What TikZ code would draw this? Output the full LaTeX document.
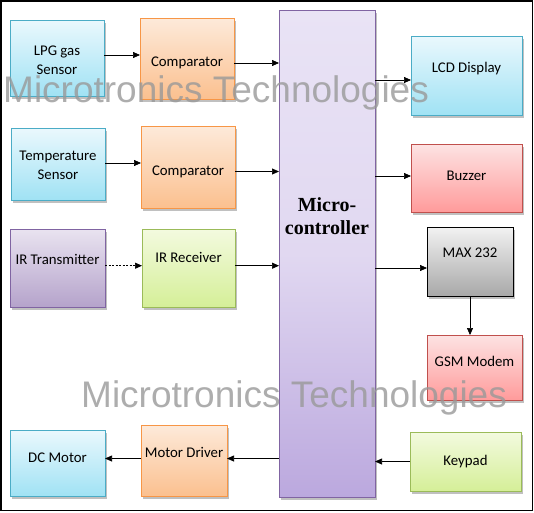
\documentclass[tikz,border=0pt]{standalone}
\usepackage{fontspec}
\setmainfont{Carlito}
\newfontfamily\mcufont{Liberation Serif}
\newfontfamily\wmfont{Liberation Sans}
\usepackage{xcolor}
\usepackage{tikz}
\usetikzlibrary{positioning,arrows.meta,shadows}

\definecolor{blueTop}{HTML}{EAF8FD}
\definecolor{blueBot}{HTML}{A0E2F4}
\definecolor{blueLine}{HTML}{4BACC6}
\definecolor{orangeTop}{HTML}{FDEADA}
\definecolor{orangeBot}{HTML}{FBC08F}
\definecolor{orangeLine}{HTML}{F79646}
\definecolor{violetTop}{HTML}{E9E3F0}
\definecolor{violetBot}{HTML}{B5A3CB}
\definecolor{violetLine}{HTML}{8064A2}
\definecolor{greenTop}{HTML}{F3FADF}
\definecolor{greenBot}{HTML}{D5EF98}
\definecolor{greenLine}{HTML}{9BBB59}
\definecolor{redTop}{HTML}{FDE3E3}
\definecolor{redBot}{HTML}{FF9B9B}
\definecolor{redLine}{HTML}{C0504D}
\definecolor{greyTop}{HTML}{F2F2F2}
\definecolor{greyBot}{HTML}{A8A8A8}
\definecolor{mcuTop}{HTML}{E9E3F5}
\definecolor{mcuMid}{HTML}{E1D8F1}
\definecolor{mcuBot}{HTML}{BBA8DE}

\begin{document}
\begin{tikzpicture}[
	x=1pt, y=-1pt,
	every node/.style={font=\fontsize{14.8}{19}\selectfont},
	every label/.style={align=center},
	block/.style={
		rectangle, inner sep=0pt, outer sep=0pt, line width=0.8pt,
		drop shadow={shadow xshift=2pt, shadow yshift=-2.5pt, fill=black!45, opacity=0.55}
	},
	blue_block/.style={block, draw=blueLine, top color=blueTop, bottom color=blueBot},
	orange_block/.style={block, draw=orangeLine, top color=orangeTop, bottom color=orangeBot},
	violet_block/.style={block, draw=violetLine, top color=violetTop, bottom color=violetBot},
	green_block/.style={block, draw=greenLine, top color=greenTop, bottom color=greenBot},
	red_block/.style={block, draw=redLine, top color=redTop, bottom color=redBot},
	grey_block/.style={block, draw=black, top color=greyTop, bottom color=greyBot},
	arrow_line/.style={-{Triangle[length=7pt,width=6pt]}, black, line width=0.7pt},
	watermark/.style={font=\wmfont\fontsize{37}{40}\selectfont, text=black!40, text opacity=0.8, anchor=base west, inner sep=0pt}
	]
	\useasboundingbox (0,0) rectangle (534,512);
	\draw[line width=1.5pt] (0.75,0.75) rectangle (532.5,510.5);
	
	% --- 1. COT TRAI (cam bien) ---
	\node[blue_block, minimum width=94, minimum height=76, label={[yshift=-2pt]center:LPG gas\\Sensor}] (lpg) at (57,58) {};
	\node[blue_block, minimum width=94, minimum height=72, label={[yshift=-1.5pt]center:Temperature\\Sensor}] (temp) at (58,164) {};
	\node[violet_block, minimum width=95, minimum height=78, label={[yshift=9pt]center:IR Transmitter}] (irtx) at (57.5,268) {};
	\node[blue_block, minimum width=95, minimum height=66, label={[yshift=5pt]center:DC Motor}] (dcm) at (57.5,463) {};
	
	% --- 2. COT GIUA ---
	\node[orange_block, minimum width=94, minimum height=81, label={[yshift=-4.5pt]center:Comparator}] (comp1) at (187,58.5) {};
	\node[orange_block, minimum width=94, minimum height=82, label={[yshift=-5pt]center:Comparator}] (comp2) at (188,167) {};
	\node[green_block, minimum width=93, minimum height=78, label={[yshift=11pt]center:IR Receiver}] (irrx) at (188.5,268) {};
	\node[orange_block, minimum width=86, minimum height=71, label={[yshift=8pt]center:Motor Driver}] (mdrv) at (184,460.5) {};
	
	% --- 3. VI DIEU KHIEN ---
	\node[block, draw=violetLine, top color=mcuTop, bottom color=mcuBot, middle color=mcuMid,
		minimum width=96, minimum height=487,
		label={[yshift=37pt, font=\mcufont\bfseries\fontsize{20}{23}\selectfont]center:Micro-\\controller}] (mcu) at (327,253.5) {};
	
	% --- 4. COT PHAI ---
	\node[blue_block, minimum width=111, minimum height=79, label={[yshift=6.5pt]center:LCD Display}] (lcd) at (466.5,75.5) {};
	\node[red_block, minimum width=111, minimum height=68, label={[yshift=2pt]center:Buzzer}] (buz) at (466.5,178) {};
	\node[grey_block, minimum width=86, minimum height=69, label={[yshift=8.5pt]center:MAX 232}] (max) at (470,261.5) {};
	\node[red_block, minimum width=95, minimum height=65, label={[yshift=6pt]center:GSM Modem}] (gsm) at (474.5,367.5) {};
	\node[green_block, minimum width=111, minimum height=59, label={center:Keypad}] (key) at (465.5,461.5) {};
	
	% --- 5. MUI TEN ---
	\draw[arrow_line] ([yshift=3pt]lpg.east) -- ([yshift=3pt]lpg.east -| comp1.west);
	\draw[arrow_line] ([yshift=-4.5pt]comp1.east) -- ([yshift=-4.5pt]comp1.east -| mcu.west);
	\draw[arrow_line] ([yshift=1pt]temp.east) -- ([yshift=1pt]temp.east -| comp2.west);
	\draw[arrow_line] ([yshift=-4.5pt]comp2.east) -- ([yshift=-4.5pt]comp2.east -| mcu.west);
	\draw[arrow_line, dash pattern=on 2pt off 1.5pt] ([yshift=2.3pt]irtx.east) -- ([yshift=2.3pt]irtx.east -| irrx.west);
	\draw[arrow_line] ([yshift=2.3pt]irrx.east) -- ([yshift=2.3pt]irrx.east -| mcu.west);
	
	\draw[arrow_line] ([yshift=-4.5pt]lcd.west -| mcu.east) -- ([yshift=-4.5pt]lcd.west);
	\draw[arrow_line] ([yshift=2pt]buz.west -| mcu.east) -- ([yshift=2pt]buz.west);
	\draw[arrow_line] ([yshift=-6.5pt]max.west -| mcu.east) -- ([yshift=-6.5pt]max.west);
	\draw[arrow_line] (max.south) -- (max.south |- gsm.north);
	\draw[arrow_line] (key.west) -- (key.west -| mcu.east);
	
	\draw[arrow_line] ([yshift=2pt]mdrv.east -| mcu.west) -- ([yshift=2pt]mdrv.east);
	\draw[arrow_line] ([yshift=2pt]mdrv.west) -- ([yshift=2pt]mdrv.west -| dcm.east);
	
	% --- 6. CHU CHIM ---
	\node[watermark] (wm_top) at (3,102) {Microtronics Technologies};
	\node[watermark] (wm_bottom) at (81,407) {Microtronics Technologies};
	
\end{tikzpicture}
\end{document}
